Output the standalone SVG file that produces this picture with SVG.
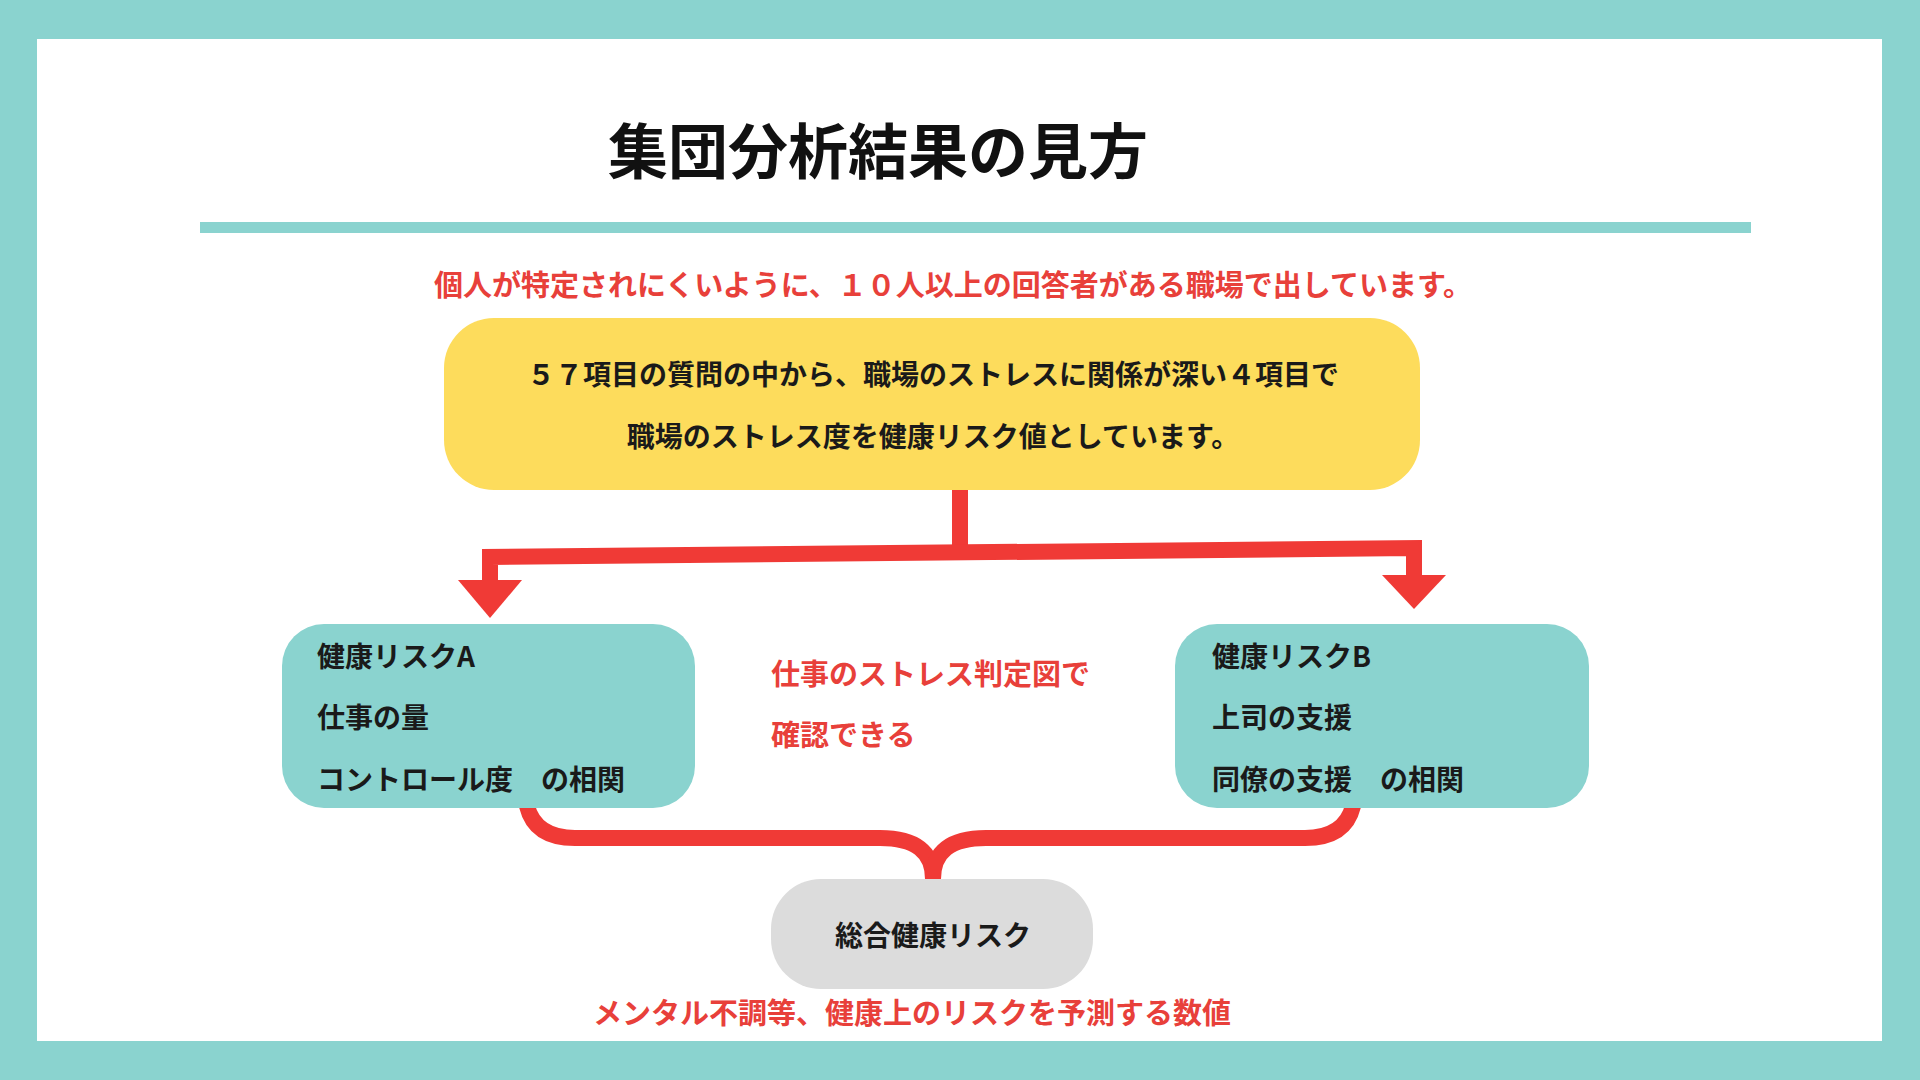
<svg xmlns="http://www.w3.org/2000/svg" width="1920" height="1080" viewBox="0 0 1920 1080">
<style>
text{font-family:"Noto Sans CJK JP","Noto Sans",sans-serif;font-weight:700}
.red{fill:#E8403A;font-size:29px}
.blk{fill:#1a1a1a;font-size:28px}
.con{fill:none;stroke:#F03A36;stroke-width:16}
</style>
<rect width="1920" height="1080" fill="#8AD3CF"/>
<rect x="37" y="39" width="1845" height="1002" fill="#FFFFFF"/>
<g id="title"><text x="878" y="147" text-anchor="middle" dominant-baseline="central" font-size="60" fill="#111">集団分析結果の見方</text>
<rect x="200" y="222" width="1551" height="11" fill="#8AD3CF"/></g>
<g id="note1"><text class="red" x="953" y="283" text-anchor="middle" dominant-baseline="central">個人が特定されにくいように、１０人以上の回答者がある職場で出しています。</text></g>
<g id="main"><rect x="444" y="318" width="976" height="172" rx="50" fill="#FDDC5C"/>
<text class="blk" x="933" y="373" text-anchor="middle" dominant-baseline="central">５７項目の質問の中から、職場のストレスに関係が深い４項目で</text>
<text class="blk" x="933" y="435" text-anchor="middle" dominant-baseline="central">職場のストレス度を健康リスク値としています。</text></g>
<g id="connectors">
<path class="con" d="M960 490 V552"/>
<path class="con" d="M490 590 V557 L1414 548 V585"/>
<polygon points="458,580 522,580 490,618" fill="#F03A36"/>
<polygon points="1382,575 1446,575 1414,609" fill="#F03A36"/>
<path class="con" stroke-width="14" d="M527 806 Q535 838 575 838 H880 Q933 838 933 879"/>
<path class="con" stroke-width="14" d="M1353 806 Q1345 838 1305 838 H986 Q933 838 933 879"/>
</g>
<g id="riskA"><rect x="282" y="624" width="413" height="184" rx="42" fill="#8AD3CF"/>
<text class="blk" x="317" y="655" dominant-baseline="central">健康リスクA</text>
<text class="blk" x="317" y="716" dominant-baseline="central">仕事の量</text>
<text class="blk" x="317" y="778" dominant-baseline="central">コントロール度　の相関</text></g>
<g id="riskB"><rect x="1175" y="624" width="414" height="184" rx="42" fill="#8AD3CF"/>
<text class="blk" x="1212" y="655" dominant-baseline="central">健康リスクB</text>
<text class="blk" x="1212" y="716" dominant-baseline="central">上司の支援</text>
<text class="blk" x="1212" y="778" dominant-baseline="central">同僚の支援　の相関</text></g>
<g id="note2"><text class="red" x="771" y="672" dominant-baseline="central">仕事のストレス判定図で</text>
<text class="red" x="771" y="733" dominant-baseline="central">確認できる</text></g>
<g id="total"><rect x="771" y="879" width="322" height="110" rx="50" fill="#DCDCDC"/>
<text class="blk" x="933" y="934" text-anchor="middle" dominant-baseline="central">総合健康リスク</text></g>
<g id="note3"><text class="red" x="912" y="1011" text-anchor="middle" dominant-baseline="central">メンタル不調等、健康上のリスクを予測する数値</text></g>
</svg>
